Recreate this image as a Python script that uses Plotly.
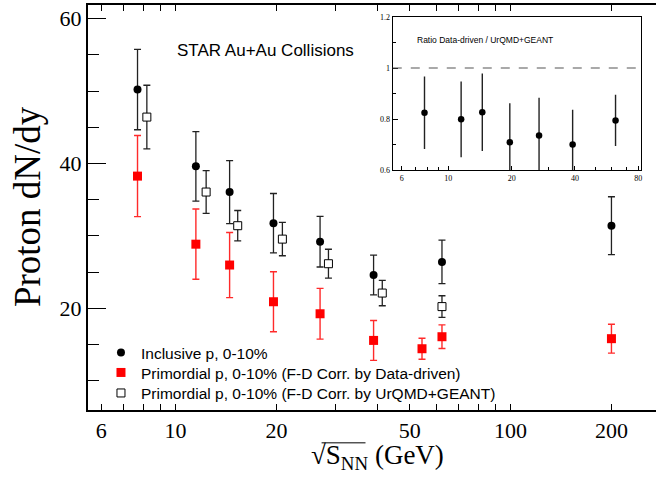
import plotly.graph_objects as go

# ---------------- data ----------------
energy_incl = [7.7, 11.5, 14.5, 19.6, 27, 39, 62.4, 200]
dndy_incl = [50.2, 39.6, 36.05, 31.75, 29.2, 24.6, 26.4, 31.4]
err_incl = [5.55, 4.8, 4.35, 4.1, 3.5, 2.75, 3.0, 4.0]

energy_dd = [7.7, 11.5, 14.5, 19.6, 27, 39, 54.4, 62.4, 200]
dndy_dd = [38.25, 28.85, 25.97, 20.9, 19.24, 15.56, 14.41, 16.07, 15.8]
err_dd = [5.6, 4.85, 4.5, 4.15, 3.5, 2.75, 1.45, 1.63, 2.0]

energy_urqmd = [8.21, 12.34, 15.33, 20.84, 28.6, 41.4, 62.4]
dndy_urqmd = [46.4, 36.05, 31.4, 29.55, 26.15, 22.1, 20.23]
err_urqmd = [4.4, 2.95, 2.1, 2.3, 2.0, 1.75, 1.5]

energy_ratio = [7.7, 11.5, 14.5, 19.6, 27, 39, 62.4]
ratio = [0.825, 0.799, 0.827, 0.709, 0.736, 0.701, 0.795]
err_ratio = [0.142, 0.148, 0.152, 0.153, 0.148, 0.136, 0.1]

legend_names = ["Inclusive p, 0-10%",
                "Primordial p, 0-10% (F-D Corr. by Data-driven)",
                "Primordial p, 0-10% (F-D Corr. by UrQMD+GEANT)"]

main_xticks = [6, 10, 20, 50, 100, 200]
main_xminor = [7, 8, 9, 30, 40, 60, 70, 80, 90, 300]
inset_xticks = [6, 10, 20, 40, 80]
inset_xminor = [7, 8, 9, 30, 50, 60, 70]

SERIF = "Liberation Serif"
SANS = "Liberation Sans"

# ---------------- geometry (pixels) ----------------
W, H = 658, 481
ML, MR, MT, MB = 88, 1, 3, 71
PW, PH = W - ML - MR, H - MT - MB

def px(xpix):
    return (xpix - ML) / PW

def py(ypix):
    return (H - MB - ypix) / PH

fig = go.Figure()

fig.add_trace(go.Scatter(
    x=energy_incl, y=dndy_incl, mode="markers", name=legend_names[0], legend="legend",
    marker=dict(symbol="circle", size=8, color="black"),
    error_y=dict(type="data", array=err_incl, color="#222", thickness=1.3, width=3.5),
))
fig.add_trace(go.Scatter(
    x=energy_dd, y=dndy_dd, mode="markers", name=legend_names[1], legend="legend2",
    marker=dict(symbol="square", size=9, color="#ff0000"),
    error_y=dict(type="data", array=err_dd, color="#ff2a2a", thickness=1.4, width=3.5),
))
fig.add_trace(go.Scatter(
    x=energy_urqmd, y=dndy_urqmd, mode="markers", name=legend_names[2], legend="legend3",
    marker=dict(symbol="square", size=8, color="white", line=dict(color="black", width=1)),
    error_y=dict(type="data", array=err_urqmd, color="#222", thickness=1.3, width=3.5),
))
fig.add_trace(go.Scatter(
    x=energy_ratio, y=ratio, mode="markers", showlegend=False,
    xaxis="x2", yaxis="y2",
    marker=dict(symbol="circle", size=6.5, color="black"),
    error_y=dict(type="data", array=err_ratio, color="#222", thickness=1.4, width=0),
))

xr = [0.7387, 2.434]
yr = [5.95, 61.88]

def leg(ypix):
    return dict(x=px(101), y=py(ypix), xanchor="left", yanchor="middle",
                bgcolor="rgba(0,0,0,0)", borderwidth=0,
                font=dict(family=SANS, size=15.5, color="black"))

fig.update_layout(
    width=W, height=H,
    margin=dict(l=ML, r=MR, t=MT, b=MB),
    paper_bgcolor="white", plot_bgcolor="white",
    showlegend=True,
    legend=leg(352.7), legend2=leg(372.7), legend3=leg(393.3),
    xaxis=dict(type="log", range=xr, domain=[0, 1], anchor="y",
               showline=True, linecolor="black", linewidth=2, mirror="allticks",
               ticks="inside", ticklen=6, tickwidth=1, tickcolor="black",
               tickmode="array", tickvals=main_xticks,
               ticktext=[str(v) for v in main_xticks],
               tickfont=dict(family=SERIF, size=22, color="black"),
               minor=dict(ticks="inside", ticklen=6, tickwidth=1, tickcolor="black",
                          tickmode="array", tickvals=main_xminor),
               showgrid=False, zeroline=False),
    xaxis3=dict(type="log", range=xr, overlaying="x", anchor="y", side="bottom",
                showline=False, mirror="ticks",
                ticks="inside", ticklen=12, tickwidth=1, tickcolor="black",
                tickmode="array", tickvals=[10, 100], showticklabels=False,
                showgrid=False, zeroline=False),
    yaxis=dict(range=yr, domain=[0, 1], anchor="x",
               showline=True, linecolor="black", linewidth=2, mirror=False,
               ticks="inside", ticklen=18, tickwidth=1, tickcolor="black",
               tickmode="array", tickvals=[20, 40, 60],
               tickfont=dict(family=SERIF, size=22, color="black"),
               minor=dict(ticks="inside", ticklen=11, tickwidth=1, tickcolor="black",
                          tickmode="linear", tick0=0, dtick=5),
               showgrid=False, zeroline=False),
    yaxis3=dict(range=yr, overlaying="y", anchor="x", side="right",
                showline=False, ticks="inside", ticklen=10, tickwidth=1, tickcolor="black",
                tickmode="array", tickvals=[20, 40, 60], showticklabels=False,
                minor=dict(ticks="inside", ticklen=5, tickwidth=1, tickcolor="black",
                           tickmode="linear", tick0=0, dtick=5),
                showgrid=False, zeroline=False),
    xaxis2=dict(type="log", range=[0.7355, 1.9164], domain=[px(393.3), px(642)], anchor="y2",
                showline=True, linecolor="black", linewidth=1.3, mirror=True,
                ticks="inside", ticklen=4, tickwidth=1, tickcolor="black",
                tickmode="array", tickvals=inset_xticks,
                tickfont=dict(family=SERIF, size=8, color="black"),
                minor=dict(ticks="inside", ticklen=3, tickwidth=1, tickcolor="black",
                           tickmode="array", tickvals=inset_xminor),
                showgrid=False, zeroline=False),
    yaxis2=dict(range=[0.6, 1.2], domain=[py(169), py(15)], anchor="x2",
                showline=True, linecolor="black", linewidth=1.3, mirror=True,
                ticks="inside", ticklen=5, tickwidth=1, tickcolor="black",
                tickmode="array", tickvals=[0.6, 0.8, 1.0, 1.2],
                tickfont=dict(family=SERIF, size=8, color="black"),
                minor=dict(ticks="inside", ticklen=3, tickwidth=1, tickcolor="black",
                           tickmode="linear", tick0=0, dtick=0.1),
                showgrid=False, zeroline=False),
)

# dashed reference line at ratio = 1
fig.add_shape(type="line", xref="x2 domain", yref="y2", x0=0, x1=1, y0=1, y1=1,
              line=dict(color="#555", width=1.2, dash="dash"))

# texts
fig.add_annotation(text="STAR Au+Au Collisions", xref="paper", yref="paper",
                   x=px(175), y=py(49), xanchor="left", yanchor="middle", showarrow=False,
                   font=dict(family=SANS, size=17, color="black"))
fig.add_annotation(text="Ratio Data-driven / UrQMD+GEANT", xref="paper", yref="paper",
                   x=px(416), y=py(37.7), xanchor="left", yanchor="middle", showarrow=False,
                   font=dict(family=SANS, size=8.5, color="black"))
fig.add_annotation(text="Proton dN/dy", xref="paper", yref="paper", textangle=-90,
                   x=px(27), y=py(206), xanchor="center", yanchor="middle", showarrow=False,
                   font=dict(family=SERIF, size=37, color="black"))
fig.add_annotation(text="√S<sub>NN</sub> (GeV)", xref="paper", yref="paper",
                   x=px(378), y=py(457.5), xanchor="center", yanchor="middle", showarrow=False,
                   font=dict(family=SERIF, size=27, color="black"))
# vinculum of the square root
fig.add_shape(type="line", xref="paper", yref="paper",
              x0=px(322), x1=px(366), y0=py(443), y1=py(443),
              line=dict(color="black", width=1))

fig.write_html("out.html", config={"displayModeBar": False},
               post_script="document.body.style.margin='0px';document.body.style.overflow='hidden';")
